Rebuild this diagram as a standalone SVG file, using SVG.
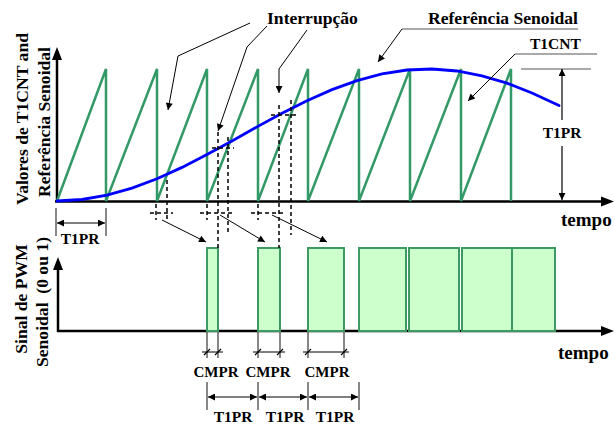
<svg xmlns="http://www.w3.org/2000/svg" width="615" height="426" viewBox="0 0 615 426">
<style>
text{font-family:"Liberation Serif","Times New Roman",serif;font-weight:bold;fill:#000}
.big{font-size:17.6px}
.mid{font-size:15.5px}
.tempo{font-size:19px}
.axis{stroke:#000;stroke-width:2.5;fill:none}
.tooth{stroke:#339966;stroke-width:2.5;fill:none;stroke-linejoin:miter}
.sine{stroke:#0000ff;stroke-width:2.8;fill:none;stroke-linecap:round}
.pulse{fill:#ccffcc;stroke:#3d9a62;stroke-width:2}
.dash{stroke:#000;stroke-width:1.5;stroke-dasharray:4 3;fill:none}
.lead{stroke:#000;stroke-width:1;fill:none}
.glead{stroke:#555;stroke-width:1.2;fill:none}
.dim{stroke:#000;stroke-width:1.2;fill:none}
.ext{stroke:#555;stroke-width:1.4;fill:none}
</style>
<defs>
<marker id="ah" viewBox="0 0 10 10" refX="10" refY="5" markerWidth="9" markerHeight="7" markerUnits="userSpaceOnUse" orient="auto-start-reverse">
<path d="M0,0 L10,5 L0,10 z" fill="#000"/>
</marker>
</defs>
<g id="axes">
<path class="axis" d="M57,202 V58"/>
<polygon points="57,47 52,60 62,60" fill="#000"/>
<path class="axis" d="M55,201.5 H604"/>
<polygon points="614,201.5 601,196.5 601,206.5" fill="#000"/>
<path class="axis" d="M58,332 V268"/>
<polygon points="58,257 53,270 63,270" fill="#000"/>
<path class="axis" d="M57,331 H604"/>
<polygon points="614,331 601,326 601,336" fill="#000"/>
</g>
<g id="t1cnt-sawtooth">
<path class="tooth" d="M57,201 L106,69 L106,201 L157,69 L157,201 L207,69 L207,201 L258,69 L258,201 L308,69 L308,201 L359,69 L359,201 L410,69 L410,201 L461,69 L461,201 L511,69 L511,201"/>
</g>
<g id="sine-reference">
<path class="sine" d="M57,201 L82,199.5 L107,195.2 L132,188.1 L157,178.7 L182,167.4 L207,154.5 L232,140.9 L257,126.9 L282,113.3 L307,100.7 L332,89.6 L357,80.6 L382,73.9 L407,70 L432,69 L457,71 L482,75.8 L507,83.2 L532,93 L559,105.6"/>
</g>
<g id="pwm-pulses">
<rect class="pulse" x="207" y="248" width="11" height="83"/>
<rect class="pulse" x="258" y="248" width="22" height="83"/>
<rect class="pulse" x="308" y="248" width="36" height="83"/>
<rect class="pulse" x="359" y="248" width="47" height="83"/>
<rect class="pulse" x="409" y="248" width="50" height="83"/>
<rect class="pulse" x="462" y="248" width="50" height="83"/>
<rect class="pulse" x="512" y="248" width="43" height="83"/>
</g>
<g id="crossings">
<path class="dash" d="M150,213 H173 M156,204 V220 M167,180 V220"/>
<path class="dash" d="M200,213 H234 M207,204 V220 M218,132 V248 M228,137 V232 M212,148 H234"/>
<path class="dash" d="M251,213 H284 M258,204 V220 M279,105 V248 M291,100 V235 M271,115 H297"/>
</g>
<g id="connectors">
<path class="lead" d="M162,220 L206,242" marker-end="url(#ah)"/>
<path class="lead" d="M220,215 L265,242" marker-end="url(#ah)"/>
<path class="lead" d="M272,215 L327,242" marker-end="url(#ah)"/>
<path class="lead" d="M250,23 L178,56 L168,110" marker-end="url(#ah)"/>
<path class="lead" d="M267,26 L247,47 L218,131" marker-end="url(#ah)"/>
<path class="lead" d="M307,30 L279,69 L279,93" marker-end="url(#ah)"/>
<path class="glead" d="M402,29 H578"/>
<path class="lead" d="M402,29 L378,62" marker-end="url(#ah)"/>
<path class="glead" d="M515,54 H597"/>
<path class="lead" d="M515,54 L468,101" marker-end="url(#ah)"/>
</g>
<g id="dim-t1pr-right">
<path class="glead" d="M521,69 H591"/>
<path class="dim" d="M562,120 V69" marker-end="url(#ah)"/>
<path class="dim" d="M562,146 V200" marker-end="url(#ah)"/>
<text class="mid" x="562" y="138" text-anchor="middle">T1PR</text>
</g>
<g id="dim-t1pr-left">
<path class="ext" d="M56,208 V236 M106,208 V236"/>
<path class="dim" d="M57,223 H105" marker-start="url(#ah)" marker-end="url(#ah)"/>
<text class="mid" x="80" y="244" text-anchor="middle">T1PR</text>
</g>
<g id="dim-cmpr">
<path class="ext" d="M207,332 V358 M218,332 V358 M258,332 V358 M280,332 V358 M308,332 V358 M344,332 V358"/>
<path class="dim" d="M202,352 H223 M253,352 H285 M303,352 H349"/>
<path class="dim" d="M204,355 L210,349 M215,355 L221,349 M255,355 L261,349 M277,355 L283,349 M305,355 L311,349 M341,355 L347,349"/>
<text class="mid" x="216" y="377" text-anchor="middle" style="font-size:15px">CMPR</text>
<text class="mid" x="268" y="377" text-anchor="middle" style="font-size:15px">CMPR</text>
<text class="mid" x="327" y="377" text-anchor="middle" style="font-size:15px">CMPR</text>
</g>
<g id="dim-t1pr-bottom">
<path class="ext" d="M207,382 V410 M258,382 V410 M308,382 V410 M359,382 V410"/>
<path class="dim" d="M208,397 H257" marker-start="url(#ah)" marker-end="url(#ah)"/>
<path class="dim" d="M259,397 H307" marker-start="url(#ah)" marker-end="url(#ah)"/>
<path class="dim" d="M309,397 H358" marker-start="url(#ah)" marker-end="url(#ah)"/>
<text class="mid" x="233" y="422" text-anchor="middle">T1PR</text>
<text class="mid" x="285" y="422" text-anchor="middle">T1PR</text>
<text class="mid" x="335" y="422" text-anchor="middle">T1PR</text>
</g>
<g id="labels">
<text class="big" x="267" y="24">Interrupção</text>
<text class="big" x="428" y="24">Referência Senoidal</text>
<text class="mid" x="530" y="49">T1CNT</text>
<text class="tempo" x="561" y="226">tempo</text>
<text class="tempo" x="558" y="359">tempo</text>
<text class="big" transform="translate(28,119) rotate(-90)" text-anchor="middle">Valores de T1CNT and</text>
<text class="big" transform="translate(49.5,122) rotate(-90)" text-anchor="middle">Referência Senoidal</text>
<text class="big" transform="translate(27,299) rotate(-90)" text-anchor="middle">Sinal de PWM</text>
<text class="big" transform="translate(47.5,302) rotate(-90)" text-anchor="middle" xml:space="preserve">Senoidal  (0 ou 1)</text>
</g>
</svg>
